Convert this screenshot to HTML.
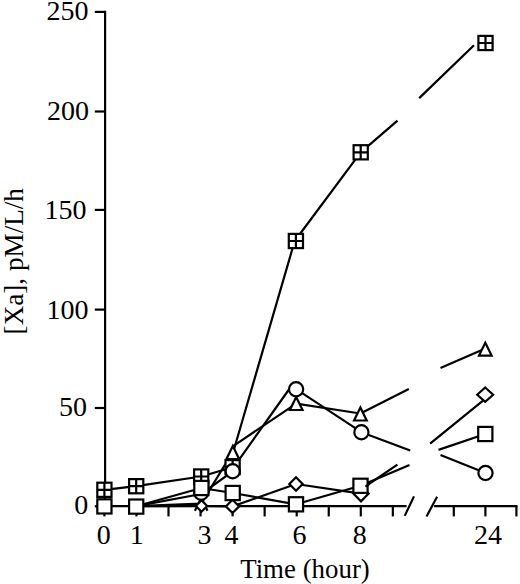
<!DOCTYPE html>
<html><head><meta charset="utf-8"><style>
html,body{margin:0;padding:0;background:#fff;}
svg{display:block;}
text{font-family:"Liberation Serif",serif;font-size:28px;fill:#000;}
</style></head><body>
<svg width="520" height="584" viewBox="0 0 520 584">
<rect width="520" height="584" fill="#fff"/>
<g fill="none" stroke="#000" stroke-width="2.2" stroke-linecap="butt"><path d="M105.1 10.8 V506.2"/><path d="M94.8 11.9 H105.1"/><path d="M94.8 111.5 H105.1"/><path d="M94.8 209.9 H105.1"/><path d="M94.8 309.6 H105.1"/><path d="M94.8 408 H105.1"/><path d="M94.8 506.3 H105.1"/><path d="M105.1 506.2 H406.6"/><path d="M434.1 506.2 H517.5"/><path d="M104.4 506.2 V516.4"/><path d="M136.45 506.2 V516.4"/><path d="M168.5 506.2 V516.4"/><path d="M200.55 506.2 V516.4"/><path d="M232.6 506.2 V516.4"/><path d="M264.65 506.2 V516.4"/><path d="M296.7 506.2 V516.4"/><path d="M328.75 506.2 V516.4"/><path d="M360.8 506.2 V516.4"/><path d="M392.85 506.2 V516.4"/><path d="M453.8 506.2 V516.4"/><path d="M485.4 506.2 V516.4"/><path d="M516.4 506.2 V516.4"/><path d="M404.7 515.9 L414 496.4"/><path d="M426.5 516.5 L437.1 496.8"/></g>
<g fill="none" stroke="#000" stroke-width="2.2" stroke-linejoin="round"><path d="M104.4 489.8 L136.2 486.2 L201.2 476.5 L232.6 467.2M228.8 467.2 L294.7 241 L360.7 152.3 L397.5 120.6M419.2 98.1 L474 45.2"/><path d="M136.2 506.2 L201.2 503.6 L232.8 452M232.8 446.3 L296.2 403.6 L360.4 413.5 L408.8 389M440.5 367.9 L485.3 348.6"/><path d="M136.2 506.2 L201.2 494 L232.7 471.3M232.7 468.6 L288.6 390M296.1 389.2 L361.4 432.2 L410.2 450.5M440.5 454.9 L485.5 473"/><path d="M136.2 506.2 L201.5 506 L232.5 506.4 L296 484 L361 493.6M360.8 489.5 L397.4 464.7M430.1 443.6 L485.2 398.8"/><path d="M136.2 506.2 L201.4 488 L232.7 493 L296 504.3 L360.5 485.8 L409.5 465M438.5 449.9 L485.3 434"/></g>
<g fill="#fff" stroke="#000" stroke-width="2.2" stroke-linejoin="miter"><rect x="97.3" y="482.7" width="14.2" height="14.2"/><path d="M104.4 482.7V496.9M97.3 489.8H111.5"/><rect x="129.1" y="479.1" width="14.2" height="14.2"/><path d="M136.2 479.1V493.3M129.1 486.2H143.3"/><rect x="194.1" y="469.4" width="14.2" height="14.2"/><path d="M201.2 469.4V483.6M194.1 476.5H208.3"/><rect x="225.5" y="460.1" width="14.2" height="14.2"/><path d="M232.6 460.1V474.3M225.5 467.2H239.7"/><rect x="288.8" y="233.9" width="14.2" height="14.2"/><path d="M295.9 233.9V248.1M288.8 241H303"/><rect x="353.6" y="145.2" width="14.2" height="14.2"/><path d="M360.7 145.2V159.4M353.6 152.3H367.8"/><rect x="478.4" y="35.9" width="14.2" height="14.2"/><path d="M485.5 35.9V50.1M478.4 43H492.6"/><path fill="none" d="M194.88 510.8L201.2 497.9L207.52 510.8"/><path d="M232.8 446.1L239.12 459L226.48 459Z"/><path d="M296.2 397.1L302.52 410L289.88 410Z"/><path d="M360.4 407.6L366.72 420.5L354.08 420.5Z"/><path d="M485.3 342.7L491.62 355.6L478.98 355.6Z"/><circle cx="201.2" cy="492.8" r="7.1"/><circle cx="232.7" cy="471.3" r="7.1"/><circle cx="296.1" cy="389.2" r="7.1"/><circle cx="361.4" cy="432.2" r="7.1"/><circle cx="485.5" cy="473" r="7.1"/><path d="M201.5 500.24L207.16 506L201.5 511.76L195.84 506Z"/><path d="M232.5 499.74L239.16 506.4L232.5 513.06L225.84 506.4Z"/><path d="M296 477.34L302.66 484L296 490.66L289.34 484Z"/><path d="M361 485.84L368.66 493.6L361 501.36L353.34 493.6Z"/><path d="M485.2 387.54L493.16 394.7L485.2 401.86L477.24 394.7Z"/><rect x="97.3" y="499.3" width="14.2" height="14.2"/><rect x="129.1" y="499.5" width="14.2" height="14.2"/><rect x="194.3" y="480.9" width="14.2" height="14.2"/><rect x="225.6" y="485.9" width="14.2" height="14.2"/><rect x="288.9" y="497.2" width="14.2" height="14.2"/><rect x="353.4" y="478.7" width="14.2" height="14.2"/><rect x="478.2" y="426.9" width="14.2" height="14.2"/></g>
<path d="M365.4 486.6 L369.2 484" fill="none" stroke="#000" stroke-width="2.2"/>
<text x="88.6" y="20.1" text-anchor="end">250</text><text x="89.1" y="120" text-anchor="end">200</text><text x="86.4" y="218.7" text-anchor="end">150</text><text x="88.6" y="318.8" text-anchor="end">100</text><text x="86.9" y="415.7" text-anchor="end">50</text><text x="88.2" y="513.5" text-anchor="end">0</text>
<text x="103.8" y="544.3" text-anchor="middle">0</text><text x="136.8" y="544.3" text-anchor="middle">1</text><text x="204.5" y="544.3" text-anchor="middle">3</text><text x="231.5" y="544.3" text-anchor="middle">4</text><text x="299.5" y="544.3" text-anchor="middle">6</text><text x="359.8" y="544.3" text-anchor="middle">8</text><text x="488" y="544.3" text-anchor="middle">24</text>
<text x="240.2" y="577.6" textLength="129.6" lengthAdjust="spacingAndGlyphs">Time (hour)</text>
<text transform="translate(23.2 334.4) rotate(-90)" x="0" y="0" textLength="146.3" lengthAdjust="spacingAndGlyphs">[Xa], pM/L/h</text>
</svg>
</body></html>
